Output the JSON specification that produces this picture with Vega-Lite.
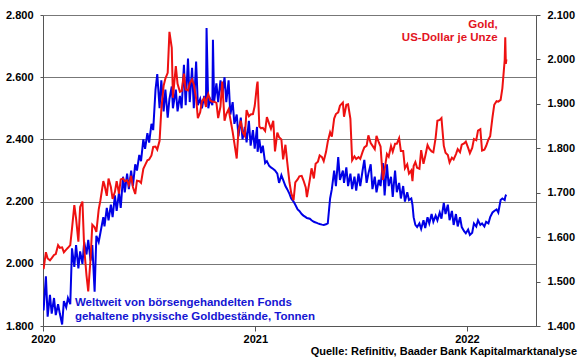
{
"$schema": "https://vega.github.io/schema/vega-lite/v6.json",
"width": 493, "height": 311,
"autosize": {"type": "none"},
"padding": {"left": 43, "top": 15, "right": 44, "bottom": 33},
"background": "white",
"config": {"view": {"stroke": null}, "font": "Liberation Sans",
  "axis": {"labelFont": "Liberation Sans", "labelFontSize": 11, "labelFontWeight": "bold", "labelColor": "black", "domainColor": "#555555", "tickColor": "#555555", "title": null}},
"title": {"text": "Quelle: Refinitiv, Baader Bank Kapitalmarktanalyse", "orient": "bottom", "anchor": "end", "frame": "group", "dx": 41, "offset": 2, "fontSize": 11, "fontWeight": "bold", "font": "Liberation Sans", "color": "black"},
"datasets": {"main": [
{"d":"2020-01-02","g":1528,"e":1850},{"d":"2020-01-06","g":1566,"e":1960},{"d":"2020-01-09","g":1552,"e":1830},{"d":"2020-01-13","g":1548,"e":1900},{"d":"2020-01-16","g":1553,"e":1840},{"d":"2020-01-20","g":1560,"e":1890},{"d":"2020-01-23","g":1562,"e":1835},{"d":"2020-01-27","g":1582,"e":1870},{"d":"2020-01-30","g":1576,"e":1840},
{"d":"2020-02-03","g":1577,"e":1805},{"d":"2020-02-06","g":1566,"e":1880},{"d":"2020-02-10","g":1572,"e":1860},{"d":"2020-02-13","g":1576,"e":1890},{"d":"2020-02-17","g":1582,"e":1870},{"d":"2020-02-20","g":1619,"e":2050},{"d":"2020-02-24","g":1672,"e":1990},{"d":"2020-02-27","g":1642,"e":2060},
{"d":"2020-03-02","g":1590,"e":1985},{"d":"2020-03-05","g":1668,"e":2040},{"d":"2020-03-09","g":1680,"e":2000},{"d":"2020-03-12","g":1576,"e":2070},{"d":"2020-03-16","g":1514,"e":2030},{"d":"2020-03-19","g":1478,"e":2077},{"d":"2020-03-23","g":1552,"e":2010},{"d":"2020-03-26","g":1628,"e":2060},{"d":"2020-03-30","g":1622,"e":1910},
{"d":"2020-04-02","g":1612,"e":2090},{"d":"2020-04-06","g":1662,"e":2070},{"d":"2020-04-09","g":1683,"e":2100},{"d":"2020-04-14","g":1726,"e":2150},{"d":"2020-04-16","g":1718,"e":2120},{"d":"2020-04-20","g":1693,"e":2180},{"d":"2020-04-23","g":1732,"e":2140},{"d":"2020-04-27","g":1713,"e":2190},{"d":"2020-04-30","g":1686,"e":2150},
{"d":"2020-05-04","g":1702,"e":2220},{"d":"2020-05-07","g":1726,"e":2170},{"d":"2020-05-11","g":1698,"e":2230},{"d":"2020-05-14","g":1730,"e":2180},{"d":"2020-05-18","g":1732,"e":2280},{"d":"2020-05-21","g":1726,"e":2230},{"d":"2020-05-25","g":1728,"e":2290},{"d":"2020-05-28","g":1717,"e":2240},
{"d":"2020-06-01","g":1738,"e":2300},{"d":"2020-06-04","g":1713,"e":2250},{"d":"2020-06-08","g":1697,"e":2320},{"d":"2020-06-11","g":1727,"e":2300},{"d":"2020-06-15","g":1726,"e":2350},{"d":"2020-06-18","g":1722,"e":2330},{"d":"2020-06-22","g":1754,"e":2400},{"d":"2020-06-25","g":1762,"e":2370},{"d":"2020-06-29","g":1773,"e":2420},
{"d":"2020-07-02","g":1775,"e":2390},{"d":"2020-07-06","g":1784,"e":2450},{"d":"2020-07-09","g":1803,"e":2430},{"d":"2020-07-13","g":1804,"e":2560},{"d":"2020-07-16","g":1797,"e":2610},{"d":"2020-07-20","g":1817,"e":2500},{"d":"2020-07-23","g":1887,"e":2590},{"d":"2020-07-27","g":1941,"e":2490},{"d":"2020-07-30","g":1957,"e":2560},
{"d":"2020-08-03","g":1970,"e":2470},{"d":"2020-08-06","g":2062,"e":2530},{"d":"2020-08-10","g":2026,"e":2570},{"d":"2020-08-12","g":1914,"e":2500},{"d":"2020-08-17","g":1985,"e":2560},{"d":"2020-08-20","g":1945,"e":2490},{"d":"2020-08-24","g":1927,"e":2540},{"d":"2020-08-27","g":1929,"e":2500},{"d":"2020-08-31","g":1968,"e":2640},
{"d":"2020-09-03","g":1932,"e":2510},{"d":"2020-09-07","g":1930,"e":2660},{"d":"2020-09-10","g":1946,"e":2520},{"d":"2020-09-14","g":1955,"e":2630},{"d":"2020-09-17","g":1944,"e":2500},{"d":"2020-09-21","g":1912,"e":2650},{"d":"2020-09-24","g":1868,"e":2510},{"d":"2020-09-28","g":1881,"e":2530},
{"d":"2020-10-01","g":1906,"e":2500},{"d":"2020-10-05","g":1913,"e":2540},{"d":"2020-10-08","g":1893,"e":2510},{"d":"2020-10-09","g":1910,"e":2758},{"d":"2020-10-12","g":1922,"e":2500},{"d":"2020-10-15","g":1908,"e":2530},{"d":"2020-10-19","g":1905,"e":2510},{"d":"2020-10-20","g":1905,"e":2720},{"d":"2020-10-22","g":1905,"e":2520},{"d":"2020-10-26","g":1902,"e":2580},{"d":"2020-10-29","g":1868,"e":2520},
{"d":"2020-11-02","g":1894,"e":2590},{"d":"2020-11-05","g":1950,"e":2540},{"d":"2020-11-09","g":1862,"e":2600},{"d":"2020-11-12","g":1877,"e":2520},{"d":"2020-11-16","g":1888,"e":2590},{"d":"2020-11-19","g":1866,"e":2480},{"d":"2020-11-23","g":1837,"e":2520},{"d":"2020-11-26","g":1811,"e":2450},{"d":"2020-11-30","g":1777,"e":2480},
{"d":"2020-12-03","g":1840,"e":2410},{"d":"2020-12-07","g":1862,"e":2470},{"d":"2020-12-10","g":1837,"e":2400},{"d":"2020-12-14","g":1828,"e":2440},{"d":"2020-12-17","g":1886,"e":2390},{"d":"2020-12-21","g":1872,"e":2460},{"d":"2020-12-24","g":1876,"e":2380},{"d":"2020-12-28","g":1877,"e":2430},{"d":"2020-12-31","g":1895,"e":2370},
{"d":"2021-01-04","g":1943,"e":2440},{"d":"2021-01-05","g":1950,"e":2360},{"d":"2021-01-08","g":1849,"e":2400},{"d":"2021-01-11","g":1845,"e":2356},{"d":"2021-01-14","g":1846,"e":2380},{"d":"2021-01-18","g":1839,"e":2324},{"d":"2021-01-21","g":1870,"e":2330},{"d":"2021-01-25","g":1855,"e":2315},{"d":"2021-01-28","g":1844,"e":2310},
{"d":"2021-02-01","g":1862,"e":2305},{"d":"2021-02-04","g":1793,"e":2300},{"d":"2021-02-08","g":1835,"e":2290},{"d":"2021-02-11","g":1825,"e":2260},{"d":"2021-02-15","g":1820,"e":2285},{"d":"2021-02-18","g":1775,"e":2270},{"d":"2021-02-22","g":1808,"e":2250},{"d":"2021-02-25","g":1770,"e":2240},
{"d":"2021-03-01","g":1723,"e":2225},{"d":"2021-03-04","g":1699,"e":2210},{"d":"2021-03-08","g":1683,"e":2200},{"d":"2021-03-11","g":1723,"e":2190},{"d":"2021-03-15","g":1730,"e":2175},{"d":"2021-03-18","g":1737,"e":2170},{"d":"2021-03-22","g":1738,"e":2160},{"d":"2021-03-25","g":1728,"e":2155},{"d":"2021-03-29","g":1712,"e":2150},{"d":"2021-03-31","g":1690,"e":2147},
{"d":"2021-04-05","g":1729,"e":2145},{"d":"2021-04-08","g":1755,"e":2140},{"d":"2021-04-12","g":1732,"e":2135},{"d":"2021-04-15","g":1765,"e":2133},{"d":"2021-04-19","g":1770,"e":2130},{"d":"2021-04-22","g":1784,"e":2128},{"d":"2021-04-26","g":1780,"e":2126},{"d":"2021-04-29","g":1771,"e":2125},
{"d":"2021-05-03","g":1792,"e":2127},{"d":"2021-05-06","g":1815,"e":2130},{"d":"2021-05-10","g":1836,"e":2210},{"d":"2021-05-13","g":1826,"e":2240},{"d":"2021-05-17","g":1867,"e":2300},{"d":"2021-05-20","g":1877,"e":2250},{"d":"2021-05-24","g":1881,"e":2343},{"d":"2021-05-27","g":1896,"e":2270},
{"d":"2021-06-01","g":1903,"e":2300},{"d":"2021-06-03","g":1871,"e":2260},{"d":"2021-06-07","g":1898,"e":2310},{"d":"2021-06-10","g":1899,"e":2250},{"d":"2021-06-14","g":1866,"e":2290},{"d":"2021-06-17","g":1773,"e":2240},{"d":"2021-06-21","g":1782,"e":2280},{"d":"2021-06-24","g":1776,"e":2235},{"d":"2021-06-28","g":1780,"e":2290},
{"d":"2021-07-01","g":1776,"e":2250},{"d":"2021-07-05","g":1792,"e":2300},{"d":"2021-07-08","g":1802,"e":2334},{"d":"2021-07-12","g":1806,"e":2260},{"d":"2021-07-15","g":1829,"e":2290},{"d":"2021-07-19","g":1812,"e":2320},{"d":"2021-07-22","g":1806,"e":2240},{"d":"2021-07-26","g":1798,"e":2280},{"d":"2021-07-29","g":1828,"e":2230},
{"d":"2021-08-02","g":1813,"e":2270},{"d":"2021-08-05","g":1804,"e":2250},{"d":"2021-08-09","g":1729,"e":2324},{"d":"2021-08-12","g":1752,"e":2220},{"d":"2021-08-16","g":1787,"e":2320},{"d":"2021-08-19","g":1781,"e":2250},{"d":"2021-08-23","g":1805,"e":2280},{"d":"2021-08-26","g":1792,"e":2215},{"d":"2021-08-30","g":1810,"e":2300},
{"d":"2021-09-02","g":1810,"e":2230},{"d":"2021-09-06","g":1823,"e":2260},{"d":"2021-09-09","g":1794,"e":2210},{"d":"2021-09-13","g":1794,"e":2250},{"d":"2021-09-16","g":1755,"e":2200},{"d":"2021-09-20","g":1764,"e":2230},{"d":"2021-09-23","g":1743,"e":2205},{"d":"2021-09-27","g":1750,"e":2210},{"d":"2021-09-29","g":1726,"e":2190},
{"d":"2021-10-01","g":1760,"e":2150},{"d":"2021-10-04","g":1769,"e":2125},{"d":"2021-10-07","g":1756,"e":2118},{"d":"2021-10-11","g":1754,"e":2130},{"d":"2021-10-14","g":1796,"e":2112},{"d":"2021-10-18","g":1765,"e":2140},{"d":"2021-10-21","g":1782,"e":2115},{"d":"2021-10-25","g":1807,"e":2150},{"d":"2021-10-28","g":1799,"e":2130},
{"d":"2021-11-01","g":1793,"e":2160},{"d":"2021-11-04","g":1791,"e":2135},{"d":"2021-11-08","g":1824,"e":2155},{"d":"2021-11-11","g":1862,"e":2140},{"d":"2021-11-15","g":1864,"e":2165},{"d":"2021-11-18","g":1868,"e":2145},{"d":"2021-11-22","g":1806,"e":2196},{"d":"2021-11-25","g":1790,"e":2160},{"d":"2021-11-29","g":1785,"e":2190},
{"d":"2021-12-02","g":1768,"e":2140},{"d":"2021-12-06","g":1779,"e":2170},{"d":"2021-12-09","g":1775,"e":2125},{"d":"2021-12-13","g":1787,"e":2160},{"d":"2021-12-16","g":1798,"e":2120},{"d":"2021-12-20","g":1791,"e":2150},{"d":"2021-12-23","g":1808,"e":2118},{"d":"2021-12-27","g":1811,"e":2105},{"d":"2021-12-30","g":1815,"e":2098},
{"d":"2022-01-03","g":1801,"e":2110},{"d":"2022-01-06","g":1789,"e":2093},{"d":"2022-01-10","g":1801,"e":2100},{"d":"2022-01-13","g":1821,"e":2130},{"d":"2022-01-17","g":1818,"e":2120},{"d":"2022-01-20","g":1840,"e":2140},{"d":"2022-01-24","g":1843,"e":2125},{"d":"2022-01-27","g":1795,"e":2130},{"d":"2022-01-31","g":1797,"e":2120},
{"d":"2022-02-03","g":1805,"e":2135},{"d":"2022-02-07","g":1820,"e":2130},{"d":"2022-02-10","g":1827,"e":2150},{"d":"2022-02-14","g":1870,"e":2165},{"d":"2022-02-17","g":1898,"e":2170},{"d":"2022-02-21","g":1906,"e":2175},{"d":"2022-02-24","g":1905,"e":2165},{"d":"2022-02-28","g":1909,"e":2205},
{"d":"2022-03-03","g":1935,"e":2210},{"d":"2022-03-07","g":1998,"e":2205},{"d":"2022-03-08","g":2050,"e":2215},{"d":"2022-03-09","g":1990,"e":2220},{"d":"2022-03-10","g":2000,"e":2222}
]},
"layer": [
 {"layer": [
  {"data": {"name": "main"},
   "mark": {"type": "line", "color": "#0000e6", "strokeWidth": 2, "clip": true},
   "encoding": {
    "x": {"field": "d", "type": "temporal",
      "scale": {"type": "utc", "domain": [{"year": 2020, "month": 1, "date": 1, "utc": true}, {"year": 2022, "month": 4, "date": 30, "utc": true}]},
      "axis": {"format": "%Y", "tickCount": {"interval": "year", "step": 1}, "grid": false, "tickSize": 5, "labelPadding": 2, "labelAlign": "center"}},
    "y": {"field": "e", "type": "quantitative",
      "scale": {"domain": [1800, 2800], "nice": false, "zero": false},
      "axis": {"orient": "left", "values": [1800, 2000, 2200, 2400, 2600, 2800], "labelExpr": "replace(format(datum.value, ',d'), ',', '.')", "grid": true, "gridColor": "#777777", "gridWidth": 1, "tickSize": 3, "labelPadding": 7}}
   }},
  {"data": {"values": [
     {"d": "2020-02-25", "v": 1874, "t": "Weltweit von börsengehandelten Fonds"},
     {"d": "2020-02-25", "v": 1829, "t": "gehaltene physische Goldbestände, Tonnen"}]},
   "mark": {"type": "text", "align": "left", "baseline": "middle", "font": "Liberation Sans", "fontSize": 11.5, "fontWeight": "bold", "color": "#1414d2"},
   "encoding": {"x": {"field": "d", "type": "temporal"}, "y": {"field": "v", "type": "quantitative"}, "text": {"field": "t"}}}
 ]},
 {"layer": [
  {"data": {"name": "main"},
   "mark": {"type": "line", "color": "#ee1111", "strokeWidth": 2, "clip": true},
   "encoding": {
    "x": {"field": "d", "type": "temporal"},
    "y": {"field": "g", "type": "quantitative",
      "scale": {"domain": [1400, 2100], "nice": false, "zero": false},
      "axis": {"orient": "right", "values": [1400, 1500, 1600, 1700, 1800, 1900, 2000, 2100], "labelExpr": "replace(format(datum.value, ',d'), ',', '.')", "grid": false, "tickSize": 4, "labelPadding": 7}}
   }},
  {"data": {"values": [
     {"d": "2022-02-23", "v": 2077, "t": "Gold,"},
     {"d": "2022-02-23", "v": 2048, "t": "US-Dollar je Unze"}]},
   "mark": {"type": "text", "align": "right", "baseline": "middle", "font": "Liberation Sans", "fontSize": 11.5, "fontWeight": "bold", "color": "#e2141e"},
   "encoding": {"x": {"field": "d", "type": "temporal"}, "y": {"field": "v", "type": "quantitative"}, "text": {"field": "t"}}}
 ]}
],
"resolve": {"scale": {"y": "independent"}}
}
